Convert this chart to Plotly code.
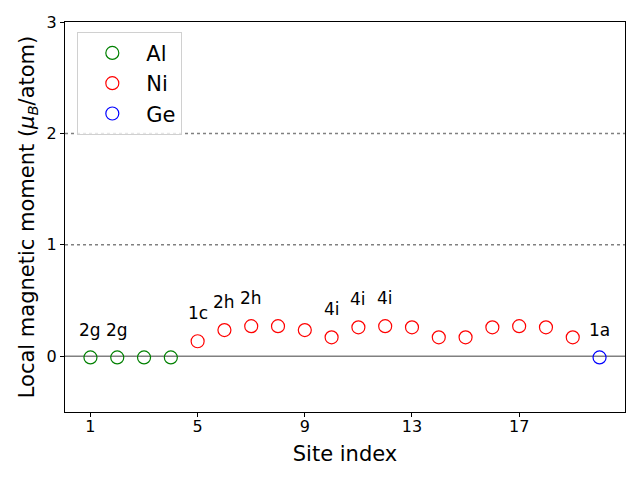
import plotly.graph_objects as go

al_x = [1, 2, 3, 4]
al_y = [-0.01, -0.01, -0.01, -0.01]
ni_x = list(range(5, 20))
ni_y = [0.135, 0.235, 0.27, 0.27, 0.235, 0.17, 0.26, 0.27, 0.26, 0.17, 0.17, 0.26, 0.27, 0.26, 0.17]
ge_x = [20]
ge_y = [-0.01]

label_x = [1, 2, 5, 6, 7, 10, 11, 12, 20]
label_text = ["2g", "2g", "1c", "2h", "2h", "4i", "4i", "4i", "1a"]

all_vals = dict(zip(al_x + ni_x + ge_x, al_y + ni_y + ge_y))

fig = go.Figure()
for name, xs, ys, col in [("Al", al_x, al_y, "green"), ("Ni", ni_x, ni_y, "red"), ("Ge", ge_x, ge_y, "blue")]:
    fig.add_trace(go.Scatter(
        x=xs, y=ys, mode="markers", name=name,
        marker=dict(symbol="circle-open", size=13, color=col, line=dict(width=1.2, color=col)),
    ))

for yv, dash, col in [(0, "solid", "gray"), (1, "dot", "gray"), (2, "dot", "gray")]:
    fig.add_hline(y=yv, line=dict(color=col, width=1.5, dash=dash), layer="below")

for lx, lt in zip(label_x, label_text):
    fig.add_annotation(x=lx, y=all_vals[lx] + 0.25, text=lt, showarrow=False,
                       font=dict(size=17, color="black"), yanchor="middle", xanchor="center")

axis_common = dict(showline=True, linecolor="black", linewidth=1, mirror=True,
                   ticks="outside", ticklen=4, tickcolor="black", showgrid=False, zeroline=False,
                   tickfont=dict(size=16, color="black"), automargin=False)

fig.update_layout(
    width=640, height=480,
    margin=dict(l=57, r=23, t=14, b=76, autoexpand=False),
    paper_bgcolor="white", plot_bgcolor="white",
    font=dict(family="DejaVu Sans", color="black"),
    xaxis=dict(range=[0.05, 20.95], tickvals=[1, 5, 9, 13, 17], ticklabelstandoff=-4,
               title=dict(text="Site index", font=dict(size=21), standoff=11), **axis_common),
    yaxis=dict(range=[-0.5, 3], tickvals=[0, 1, 2, 3],
               title=dict(text="Local magnetic moment (<i>μ</i><sub><i>B</i></sub>/atom)", font=dict(size=21), standoff=6),
               **axis_common),
    legend=dict(x=0.022, y=0.975, xanchor="left", yanchor="top",
                bordercolor="#d0d0d0", borderwidth=1, bgcolor="rgba(255,255,255,0.8)",
                font=dict(size=21), itemwidth=58, tracegroupgap=0),
    showlegend=True,
)

fig.write_html("out.html")
